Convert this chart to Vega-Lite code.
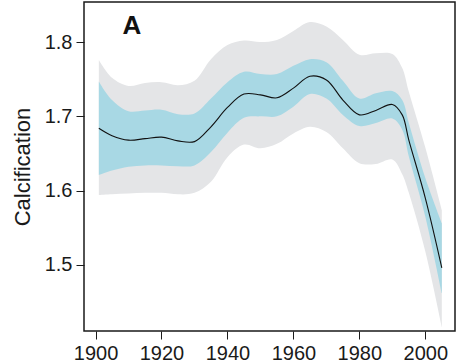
{
  "$schema": "https://vega.github.io/schema/vega-lite/v6.json",
  "width": 371,
  "height": 329,
  "autosize": "none",
  "padding": {"left": 84, "top": 2, "right": 1, "bottom": 31},
  "background": "white",
  "config": {
    "font": "Liberation Sans",
    "view": {"stroke": "#1a1a1a", "strokeWidth": 1.5},
    "axis": {"grid": false, "domain": false, "tickColor": "#1a1a1a", "tickWidth": 1, "tickSize": 8, "labelColor": "#1a1a1a", "labelFontSize": 20, "labelFont": "Liberation Sans", "titleFont": "Liberation Sans", "titleColor": "#1a1a1a", "titleFontWeight": "normal"}
  },
  "datasets": {
    "series": [
      {"year": 1901, "mean": 1.684, "ilo": 1.621, "ihi": 1.747, "olo": 1.594, "ohi": 1.776},
      {"year": 1905, "mean": 1.674, "ilo": 1.627, "ihi": 1.722, "olo": 1.595, "ohi": 1.752},
      {"year": 1910, "mean": 1.668, "ilo": 1.632, "ihi": 1.707, "olo": 1.596, "ohi": 1.741},
      {"year": 1915, "mean": 1.670, "ilo": 1.634, "ihi": 1.708, "olo": 1.597, "ohi": 1.745},
      {"year": 1920, "mean": 1.672, "ilo": 1.634, "ihi": 1.709, "olo": 1.597, "ohi": 1.746},
      {"year": 1925, "mean": 1.667, "ilo": 1.633, "ihi": 1.703, "olo": 1.595, "ohi": 1.742},
      {"year": 1930, "mean": 1.666, "ilo": 1.634, "ihi": 1.704, "olo": 1.597, "ohi": 1.748},
      {"year": 1935, "mean": 1.686, "ilo": 1.652, "ihi": 1.724, "olo": 1.612, "ohi": 1.777},
      {"year": 1940, "mean": 1.712, "ilo": 1.678, "ihi": 1.746, "olo": 1.645, "ohi": 1.796},
      {"year": 1945, "mean": 1.730, "ilo": 1.698, "ihi": 1.760, "olo": 1.662, "ohi": 1.802},
      {"year": 1950, "mean": 1.729, "ilo": 1.700, "ihi": 1.757, "olo": 1.657, "ohi": 1.800},
      {"year": 1955, "mean": 1.725, "ilo": 1.700, "ihi": 1.757, "olo": 1.663, "ohi": 1.803},
      {"year": 1960, "mean": 1.738, "ilo": 1.713, "ihi": 1.768, "olo": 1.677, "ohi": 1.815},
      {"year": 1965, "mean": 1.754, "ilo": 1.730, "ihi": 1.777, "olo": 1.686, "ohi": 1.827},
      {"year": 1970, "mean": 1.749, "ilo": 1.724, "ihi": 1.773, "olo": 1.679, "ohi": 1.821},
      {"year": 1975, "mean": 1.722, "ilo": 1.702, "ihi": 1.748, "olo": 1.657, "ohi": 1.803},
      {"year": 1980, "mean": 1.702, "ilo": 1.687, "ihi": 1.724, "olo": 1.637, "ohi": 1.783},
      {"year": 1985, "mean": 1.708, "ilo": 1.691, "ihi": 1.731, "olo": 1.636, "ohi": 1.785},
      {"year": 1990, "mean": 1.716, "ilo": 1.697, "ihi": 1.734, "olo": 1.642, "ohi": 1.784},
      {"year": 1993, "mean": 1.702, "ilo": 1.682, "ihi": 1.722, "olo": 1.622, "ohi": 1.765},
      {"year": 1995, "mean": 1.668, "ilo": 1.646, "ihi": 1.691, "olo": 1.597, "ohi": 1.733},
      {"year": 2000, "mean": 1.590, "ilo": 1.565, "ihi": 1.617, "olo": 1.518, "ohi": 1.658},
      {"year": 2005, "mean": 1.496, "ilo": 1.462, "ihi": 1.556, "olo": 1.416, "ohi": 1.574}
    ],
    "label": [{"year": 1911, "val": 1.8104, "text": "A"}]
  },
  "layer": [
    {
      "data": {"name": "series"},
      "mark": {"type": "area", "color": "#e4e5e7", "interpolate": "catmull-rom"},
      "encoding": {
        "x": {"field": "year", "type": "quantitative", "scale": {"domain": [1896.5, 2009], "nice": false, "zero": false},
              "axis": {"values": [1900, 1920, 1940, 1960, 1980, 2000], "format": "d", "title": null, "labelPadding": 4}},
        "y": {"field": "olo", "type": "quantitative", "scale": {"domain": [1.411, 1.854], "nice": false, "zero": false},
              "axis": {"values": [1.5, 1.6, 1.7, 1.8], "format": ".1f", "title": "Calcification", "titleFontSize": 22, "titlePadding": 10, "labelPadding": 4}},
        "y2": {"field": "ohi"}
      }
    },
    {
      "data": {"name": "series"},
      "mark": {"type": "area", "color": "#a8d8e4", "interpolate": "catmull-rom"},
      "encoding": {
        "x": {"field": "year", "type": "quantitative"},
        "y": {"field": "ilo", "type": "quantitative"},
        "y2": {"field": "ihi"}
      }
    },
    {
      "data": {"name": "series"},
      "mark": {"type": "line", "color": "#111111", "strokeWidth": 1.1, "interpolate": "catmull-rom"},
      "encoding": {
        "x": {"field": "year", "type": "quantitative"},
        "y": {"field": "mean", "type": "quantitative"}
      }
    },
    {
      "data": {"name": "label"},
      "mark": {"type": "text", "fontSize": 26, "fontWeight": "bold", "font": "Liberation Sans", "color": "#111111", "align": "center", "baseline": "alphabetic"},
      "encoding": {
        "x": {"field": "year", "type": "quantitative"},
        "y": {"field": "val", "type": "quantitative"},
        "text": {"field": "text"}
      }
    }
  ]
}
